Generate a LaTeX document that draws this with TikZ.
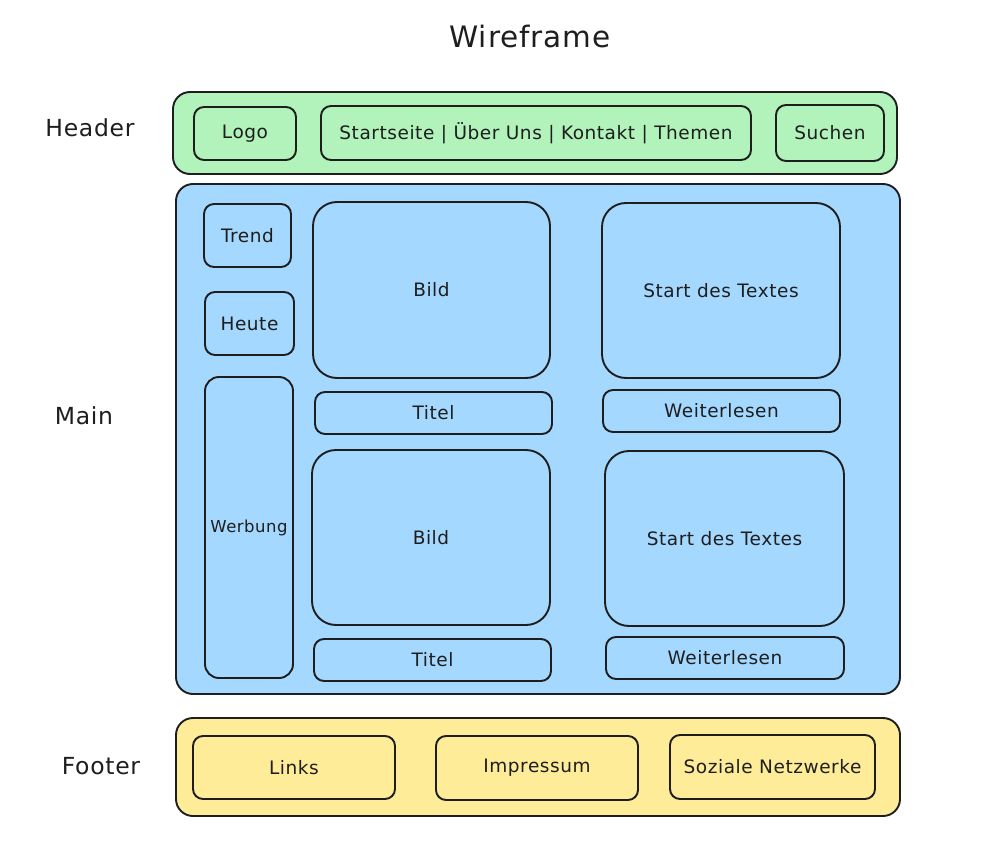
\documentclass[tikz,border=0pt]{standalone}
\usepackage{fontspec}
\setmainfont{DejaVu Sans}[LetterSpace=3]
\definecolor{strokec}{HTML}{1E1E1E}
\definecolor{greenf}{HTML}{B2F2BB}
\definecolor{bluef}{HTML}{A5D8FF}
\definecolor{yellowf}{HTML}{FFEC99}
\tikzset{
  wbox/.style={draw=strokec, line width=1.9pt, inner sep=0pt, font=\fontsize{18.5}{22}\selectfont, text=strokec},
  outer/.style={wbox, rounded corners=17pt},
  small/.style={wbox, rounded corners=10pt},
  big/.style={wbox, rounded corners=24pt},
  sidelabel/.style={font=\fontsize{23.5}{28}\selectfont, text=strokec},
}
\begin{document}
\begin{tikzpicture}[x=1pt,y=-1pt]
\useasboundingbox (0,0) rectangle (988,848);
\node[font=\fontsize{29.5}{34}\selectfont, text=strokec] (title) at (530,37) {Wireframe};
\node[sidelabel] (lh) at (90,128) {Header};
\node[sidelabel] (lm) at (84,416) {Main};
\node[sidelabel] (lf) at (101,766) {Footer};
% header
\node[outer, fill=greenf, minimum width=724pt, minimum height=82pt] (header) at (535,133) {};
\node[small, minimum width=102pt, minimum height=53pt] (logo) at (245,133.5) {Logo};
\node[small, minimum width=430pt, minimum height=54pt] (nav) at (536,133) {Startseite | Über Uns | Kontakt | Themen};
\node[small, minimum width=108pt, minimum height=56pt] (suchen) at (830,133) {Suchen};
% main
\node[outer, fill=bluef, minimum width=724pt, minimum height=510pt] (main) at (538,439) {};
\node[small, minimum width=87pt, minimum height=63pt] (trend) at (247.5,235.5) {Trend};
\node[small, minimum width=89pt, minimum height=63pt] (heute) at (249.5,323.5) {Heute};
\node[small, rounded corners=14pt, minimum width=88pt, minimum height=301pt, font=\fontsize{16.5}{20}\selectfont] (werbung) at (249,527.5) {Werbung};
\node[big, minimum width=237pt, minimum height=176pt] (bild1) at (431.5,290) {Bild};
\node[small, minimum width=237pt, minimum height=42pt] (titel1) at (433.5,413) {Titel};
\node[big, minimum width=238pt, minimum height=175pt] (start1) at (721,290.5) {Start des Textes};
\node[small, minimum width=237pt, minimum height=42pt] (weiter1) at (721.5,411) {Weiterlesen};
\node[big, minimum width=238pt, minimum height=175pt] (bild2) at (431,537.5) {Bild};
\node[small, minimum width=237pt, minimum height=42pt] (titel2) at (432.5,660) {Titel};
\node[big, minimum width=239pt, minimum height=175pt] (start2) at (724.5,538.5) {Start des Textes};
\node[small, minimum width=238pt, minimum height=42pt] (weiter2) at (725,658) {Weiterlesen};
% footer
\node[outer, fill=yellowf, minimum width=724pt, minimum height=98pt] (footer) at (538,767) {};
\node[small, minimum width=202pt, minimum height=63pt] (links) at (294,767.5) {Links};
\node[small, minimum width=202pt, minimum height=64pt] (impressum) at (537,768) {Impressum};
\node[small, minimum width=205pt, minimum height=64pt] (soziale) at (772.5,767) {Soziale Netzwerke};
\end{tikzpicture}
\end{document}
